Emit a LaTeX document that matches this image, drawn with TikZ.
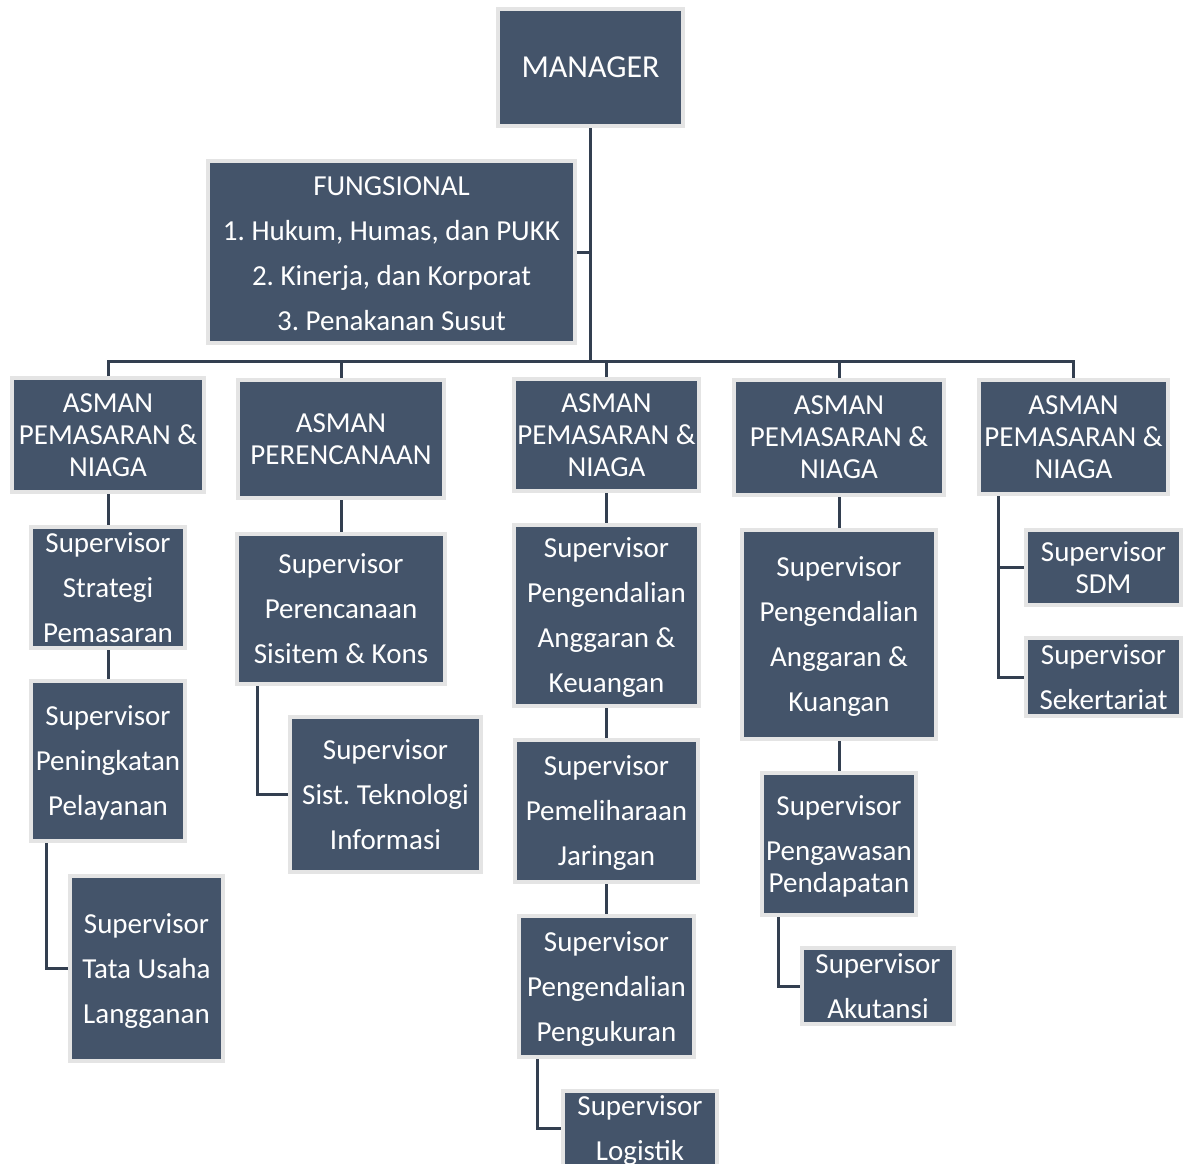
\documentclass[tikz,border=0pt]{standalone}
\usepackage{fontspec}
\setmainfont{Carlito}
\frenchspacing
\definecolor{boxfill}{HTML}{44546A}
\definecolor{boxedge}{HTML}{E4E4E4}
\definecolor{linkcol}{HTML}{333F50}
\tikzset{
  orgbox/.style={rectangle, fill=boxfill, draw=boxedge, line width=4pt, text=white,
    align=center, inner sep=0pt, text depth=0pt, font=\fontsize{29}{45}\selectfont},
  tightbox/.style={font=\fontsize{29}{32}\selectfont},
  link/.style={draw=linkcol, line width=3pt}
}
\begin{document}
\begin{tikzpicture}[x=1pt,y=-1pt]
\useasboundingbox (0,0) rectangle (1187,1164);
% top
\node[orgbox, minimum width=185, minimum height=117, font=\fontsize{32}{38}\selectfont] (mgr) at (590.5,67.5) {MANAGER};
\node[orgbox, minimum width=367, minimum height=182] (fung) at (391.5,252) {\rule{0pt}{22pt}FUNGSIONAL\\1. Hukum, Humas, dan PUKK\\2. Kinerja, dan Korporat\\3. Penakanan Susut};
% asman row
\node[orgbox, tightbox, minimum width=192, minimum height=114] (as1) at (108,435) {ASMAN\\PEMASARAN \&\\NIAGA};
\node[orgbox, tightbox, minimum width=206, minimum height=118] (as2) at (341,439) {ASMAN\\PERENCANAAN};
\node[orgbox, tightbox, minimum width=185, minimum height=112] (as3) at (606.5,435) {ASMAN\\PEMASARAN \&\\NIAGA};
\node[orgbox, tightbox, minimum width=210, minimum height=115] (as4) at (839,437.5) {ASMAN\\PEMASARAN \&\\NIAGA};
\node[orgbox, tightbox, minimum width=189, minimum height=114] (as5) at (1073.5,437) {ASMAN\\PEMASARAN \&\\NIAGA};
% column 1
\node[orgbox, minimum width=154, minimum height=121] (s11) at (108,587.5) {Supervisor\\Strategi\\Pemasaran};
\node[orgbox, minimum width=154, minimum height=160] (s12) at (108,761) {Supervisor\\Peningkatan\\Pelayanan};
\node[orgbox, minimum width=153, minimum height=185] (s13) at (146.5,968.5) {Supervisor\\Tata Usaha\\Langganan};
% column 2
\node[orgbox, minimum width=208, minimum height=150] (s21) at (341,609) {Supervisor\\Perencanaan\\Sisitem \& Kons};
\node[orgbox, minimum width=191, minimum height=155] (s22) at (385.5,794.5) {Supervisor\\Sist. Teknologi\\Informasi};
% column 3
\node[orgbox, minimum width=185, minimum height=181] (s31) at (606.5,615.5) {Supervisor\\Pengendalian\\Anggaran \&\\Keuangan};
\node[orgbox, minimum width=183, minimum height=142] (s32) at (606.5,811) {Supervisor\\Pemeliharaan\\Jaringan};
\node[orgbox, minimum width=175, minimum height=141] (s33) at (606.5,986.5) {Supervisor\\Pengendalian\\Pengukuran};
\node[orgbox, minimum width=154, minimum height=75] (s34) at (640,1128.5) {Supervisor\\Logistik};
% column 4
\node[orgbox, minimum width=194, minimum height=209] (s41) at (839,634.5) {Supervisor\\Pengendalian\\Anggaran \&\\Kuangan};
\node[orgbox, minimum width=154, minimum height=142] (s42) at (839,844) {Supervisor\\Pengawasan\\[-13pt]Pendapatan};
\node[orgbox, minimum width=152, minimum height=76] (s43) at (878,986) {Supervisor\\Akutansi};
% column 5
\node[orgbox, tightbox, minimum width=155, minimum height=75] (s51) at (1103.5,567.5) {Supervisor\\SDM};
\node[orgbox, minimum width=155, minimum height=78] (s52) at (1103.5,677) {Supervisor\\Sekertariat};
% connectors
\coordinate (bus) at (590.5,361);
\draw[link] (mgr.south) -- (bus);
\draw[link] (fung.east) -- (fung.east -| bus);
\draw[link] (as1.north) |- (bus) -| (as5.north);
\draw[link] (as2.north) -- (as2.north |- bus);
\draw[link] (as3.north) -- (as3.north |- bus);
\draw[link] (as4.north) -- (as4.north |- bus);
\draw[link] (as1.south) -- (s11.north);
\draw[link] (s11.south) -- (s12.north);
\draw[link] ([xshift=17]s12.south west) |- (s13.west);
\draw[link] (as2.south) -- (s21.north);
\draw[link] ([xshift=22]s21.south west) |- (s22.west);
\draw[link] (as3.south) -- (s31.north);
\draw[link] (s31.south) -- (s32.north);
\draw[link] (s32.south) -- (s33.north);
\draw[link] ([xshift=20]s33.south west) |- (s34.west);
\draw[link] (as4.south) -- (s41.north);
\draw[link] (s41.south) -- (s42.north);
\draw[link] ([xshift=18]s42.south west) |- (s43.west);
\draw[link] ([xshift=21]as5.south west) |- (s52.west);
\draw[link] ([xshift=21]as5.south west |- s51.west) -- (s51.west);
\end{tikzpicture}
\end{document}
